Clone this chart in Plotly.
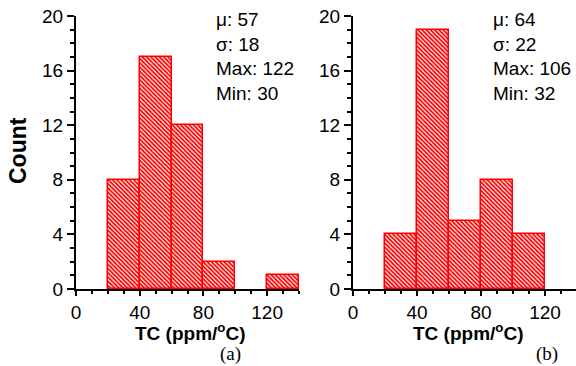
import plotly.graph_objects as go

W, H = 576, 366

# Data
bin_centers = [30, 50, 70, 90, 110, 130]
counts_a = [8, 17, 12, 2, 0, 1]
counts_b = [4, 19, 5, 8, 4, 0]
stats_a = ["μ: 57", "σ: 18", "Max: 122", "Min: 30"]
stats_b = ["μ: 64", "σ: 22", "Max: 106", "Min: 32"]
x_tick0, x_dtick, x_minor = 0, 40, 10
y_tick0, y_dtick, y_minor = 0, 4, 1
panel_labels = ["(a)", "(b)"]
x_title = "TC (ppm/<sup>o</sup>C)"
y_title = "Count"

def px(x):
    return x / W

def py(y):
    return 1 - y / H

RED = "#ff0000"
sans = "Liberation Sans, Arial, sans-serif"
serif = "Liberation Serif, Times New Roman, serif"

fig = go.Figure()

for i, counts in enumerate([counts_a, counts_b]):
    suf = "" if i == 0 else "2"
    xs = [c for c, n in zip(bin_centers, counts) if n > 0]
    ys = [n for n in counts if n > 0]
    fig.add_trace(go.Bar(
        x=xs, y=ys, width=20,
        xaxis="x" + suf, yaxis="y" + suf,
        marker=dict(
            color="white",
            line=dict(color=RED, width=1.5),
            pattern=dict(shape="\\", fgcolor=RED, bgcolor="white",
                         size=3, solidity=0.6, fillmode="replace"),
        ),
        showlegend=False,
    ))

xdoms = [[px(76), px(299)], [px(353), 1.0]]
xranges = [[0, 140], [0, 140 * (576 - 353) / (577 - 353)]]
ydom = [py(289), py(16)]

common_x = dict(
    automargin=False,
    showgrid=False, zeroline=False, showline=True, linecolor="black", linewidth=2,
    ticks="outside", ticklen=5, tickwidth=1.5, tickcolor="black",
    tickmode="linear", tick0=x_tick0, dtick=x_dtick,
    tickfont=dict(family=sans, size=19, color="black"),
    minor=dict(dtick=x_minor, tick0=x_tick0, ticks="outside", ticklen=3, tickwidth=1.5, tickcolor="black"),
)
common_y = dict(
    automargin=False,
    showgrid=False, zeroline=False, showline=True, linecolor="black", linewidth=2,
    ticks="outside", ticklen=7, tickwidth=1.5, tickcolor="black",
    tickmode="linear", tick0=y_tick0, dtick=y_dtick, range=[0, 20],
    tickfont=dict(family=sans, size=19, color="black"),
    minor=dict(dtick=y_minor, tick0=y_tick0, ticks="outside", ticklen=4, tickwidth=1.5, tickcolor="black"),
)

fig.update_layout(
    width=W, height=H,
    margin=dict(l=0, r=0, t=0, b=0, pad=0),
    paper_bgcolor="white", plot_bgcolor="white",
    bargap=0,
    xaxis=dict(domain=xdoms[0], range=xranges[0], anchor="y", **common_x),
    yaxis=dict(domain=ydom, anchor="x", **common_y),
    xaxis2=dict(domain=xdoms[1], range=xranges[1], anchor="y2", **common_x),
    yaxis2=dict(domain=ydom, anchor="x2", **common_y),
)

annotations = []
# stats text
for stats, x0 in [(stats_a, 214), (stats_b, 491)]:
    annotations.append(dict(
        text="<br>".join(stats), xref="paper", yref="paper",
        x=px(x0), y=py(7), xanchor="left", yanchor="top", align="left",
        showarrow=False, font=dict(family=sans, size=19, color="black"),
    ))
# x titles
for cx in [190, 468]:
    annotations.append(dict(
        text="<b>" + x_title + "</b>", xref="paper", yref="paper",
        x=px(cx), y=py(332), xanchor="center", yanchor="middle",
        showarrow=False, font=dict(family=sans, size=19, color="black"),
    ))
# y title
annotations.append(dict(
    text="<b>" + y_title + "</b>", xref="paper", yref="paper",
    x=px(18), y=py(151), xanchor="center", yanchor="middle", textangle=-90,
    showarrow=False, font=dict(family=sans, size=23, color="black"),
))
# panel labels
for lab, cx in zip(panel_labels, [230, 547]):
    annotations.append(dict(
        text=lab, xref="paper", yref="paper",
        x=px(cx), y=py(354), xanchor="center", yanchor="middle",
        showarrow=False, font=dict(family=serif, size=19, color="black"),
    ))
fig.update_layout(annotations=annotations)

fig.write_html("out.html")
